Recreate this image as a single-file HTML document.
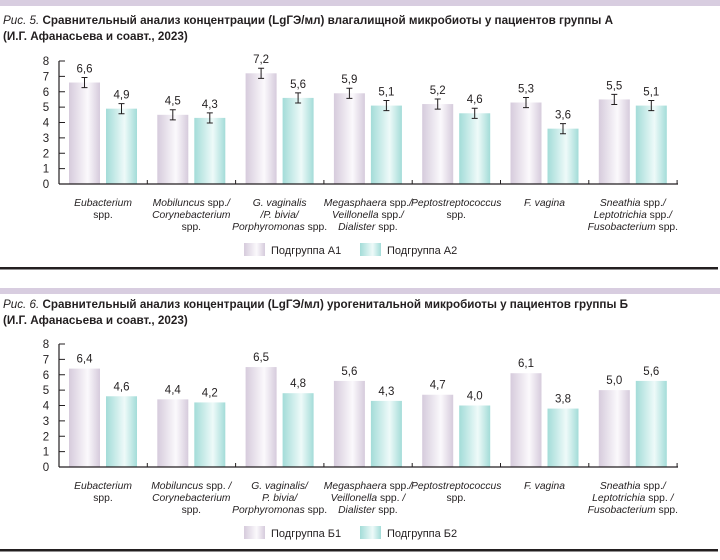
<!DOCTYPE html>
<html><head><meta charset="utf-8"><style>
body{margin:0;background:#fff;width:720px;height:555px;overflow:hidden;font-family:"Liberation Sans","DejaVu Sans",sans-serif}
svg text{font-family:"Liberation Sans","DejaVu Sans",sans-serif;fill:#231f20}
</style></head><body>
<svg id="s" width="720" height="555" xmlns="http://www.w3.org/2000/svg">
<defs>
<linearGradient id="gp" x1="0" x2="1" y1="0" y2="0"><stop offset="0" stop-color="#d6cbdc"/><stop offset="0.6" stop-color="#fbf9fc"/><stop offset="1" stop-color="#d6cbdc"/></linearGradient>
<linearGradient id="gt" x1="0" x2="1" y1="0" y2="0"><stop offset="0" stop-color="#a3dcd8"/><stop offset="0.6" stop-color="#eefaf9"/><stop offset="1" stop-color="#a3dcd8"/></linearGradient>
</defs>
<rect x="0" y="0" width="720" height="6" fill="#d8cde0"/>
<rect x="0" y="288" width="720" height="6" fill="#d8cde0"/>
<rect x="0" y="267" width="718" height="2.5" fill="#231f20"/>
<rect x="0" y="549" width="718" height="2.5" fill="#231f20"/>
<text x="3" y="24" font-size="11.7" font-weight="bold" textLength="610" lengthAdjust="spacingAndGlyphs"><tspan font-style="italic" font-weight="normal">Рис. 5.</tspan> Сравнительный анализ концентрации (LgГЭ/мл) влагалищной микробиоты у пациентов группы А</text>
<text x="3" y="40" font-size="11.7" font-weight="bold">(И.Г. Афанасьева и соавт., 2023)</text>
<text x="3" y="308" font-size="11.7" font-weight="bold" textLength="625" lengthAdjust="spacingAndGlyphs"><tspan font-style="italic" font-weight="normal">Рис. 6.</tspan> Сравнительный анализ концентрации (LgГЭ/мл) урогенитальной микробиоты у пациентов группы Б</text>
<text x="3" y="324" font-size="11.7" font-weight="bold">(И.Г. Афанасьева и соавт., 2023)</text>
<g id="c"></g>
</svg>
<script>
var g=document.getElementById('c'),h='';
var cats=[["Eubacterium","spp."],["Mobiluncus spp./","Corynebacterium","spp."],["G. vaginalis","/P. bivia/","Porphyromonas spp."],["Megasphaera spp./","Veillonella spp./","Dialister spp."],["Peptostreptococcus","spp."],["F. vagina"],["Sneathia spp./","Leptotrichia spp./","Fusobacterium spp."]];
function chart(y0,y8,a,b,err,lab1,lab2,ly){
 var u=(y0-y8)/8;
 for(var i=0;i<=8;i++){var y=y0-i*u;h+='<text x="46" y="'+(y+4)+'" font-size="11.5" text-anchor="middle">'+i+'</text><line x1="59" x2="65" y1="'+y+'" y2="'+y+'" stroke="#231f20"/>';}
 for(var k=0;k<7;k++){var gx=59+k*88.3;
  [[a[k],'gp',10],[b[k],'gt',47]].forEach(function(d){var x=gx+d[2],v=d[0],top=y0-v*u;
   h+='<rect x="'+x+'" y="'+top+'" width="31" height="'+(v*u)+'" fill="url(#'+d[1]+')"/>';
   var ly2=top-6;
   if(err){var e=0.33*u,cx=x+15.5;h+='<path d="M'+cx+' '+(top-e)+'V'+(top+e)+'M'+(cx-3)+' '+(top-e)+'h6M'+(cx-3)+' '+(top+e)+'h6" stroke="#231f20" stroke-width="1" fill="none"/>';ly2=top-e-5;}
   h+='<text x="'+(x+15.5)+'" y="'+ly2+'" font-size="11.5" text-anchor="middle">'+v.toFixed(1).replace('.',',')+'</text>';});
  h+='<line x1="'+(gx+88.3)+'" x2="'+(gx+88.3)+'" y1="'+y0+'" y2="'+(y0-4)+'" stroke="#231f20"/>';
  cats[k].forEach(function(t,j){var sp=t.replace(/(spp\.)/,'<tspan font-style="normal">$1</tspan>');h+='<text x="'+(gx+44)+'" y="'+(y0+22+j*12)+'" font-size="10.3" font-style="italic" text-anchor="middle">'+sp+'</text>';});
 }
 h+='<line x1="59" x2="59" y1="'+y8+'" y2="'+y0+'" stroke="#231f20" stroke-width="1.2"/><line x1="59" x2="678" y1="'+y0+'" y2="'+y0+'" stroke="#231f20" stroke-width="1.2"/>';
 h+='<rect x="244" y="'+(ly-7)+'" width="21" height="13" fill="url(#gp)"/><text x="271" y="'+(ly+4)+'" font-size="11">'+lab1+'</text>';
 h+='<rect x="360" y="'+(ly-7)+'" width="21" height="13" fill="url(#gt)"/><text x="387" y="'+(ly+4)+'" font-size="11">'+lab2+'</text>';
}
chart(184,61,[6.6,4.5,7.2,5.9,5.2,5.3,5.5],[4.9,4.3,5.6,5.1,4.6,3.6,5.1],true,'Подгруппа А1','Подгруппа А2',250);
cats[2]=["G. vaginalis/","P. bivia/","Porphyromonas spp."];cats[1][0]="Mobiluncus spp. /";cats[3]=["Megasphaera spp./","Veillonella spp. /","Dialister spp."];cats[6]=["Sneathia spp./","Leptotrichia spp. /","Fusobacterium spp."];
chart(467,344,[6.4,4.4,6.5,5.6,4.7,6.1,5.0],[4.6,4.2,4.8,4.3,4.0,3.8,5.6],false,'Подгруппа Б1','Подгруппа Б2',533);
g.innerHTML=h;
</script>
</body></html>
